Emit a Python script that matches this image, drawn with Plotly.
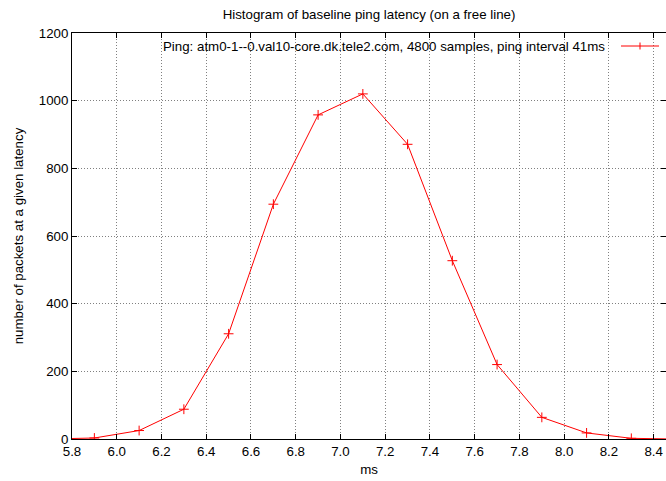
import plotly.graph_objects as go

# Data
latency_ms = [5.7, 5.9, 6.1, 6.3, 6.5, 6.7, 6.9, 7.1, 7.3, 7.5, 7.7, 7.9, 8.1, 8.3, 8.5]
packets = [0, 3, 25, 88, 311, 694, 958, 1020, 871, 527, 220, 64, 18, 2, 0]

title = "Histogram of baseline ping latency (on a free line)"
series_name = "Ping: atm0-1--0.val10-core.dk.tele2.com, 4800 samples, ping interval 41ms"
x_label = "ms"
y_label = "number of packets at a given latency"

FONT = "Liberation Sans, Arial, Helvetica, sans-serif"
FS = 13.3
RED = "#ff0000"

fig = go.Figure()
fig.add_trace(go.Scatter(
    x=latency_ms, y=packets, mode="lines+markers",
    line=dict(color=RED, width=1),
    marker=dict(symbol="cross-thin", size=7, line=dict(color=RED, width=1), color=RED),
    showlegend=False, cliponaxis=True, hoverinfo="skip",
))

axis_common = dict(
    showline=True, linecolor="black", linewidth=1, mirror="ticks",
    ticks="inside", ticklen=5, tickcolor="black", tickwidth=1,
    showgrid=True, gridcolor="#808080", griddash="1px,2px", gridwidth=1,
    zeroline=False, tickfont=dict(family=FONT, size=FS, color="black"),
    automargin=False,
)

fig.update_layout(
    width=666, height=481,
    margin=dict(l=72, r=0, t=33, b=42, autoexpand=False),
    paper_bgcolor="white", plot_bgcolor="white",
    font=dict(family=FONT, size=FS, color="black"),
    title=dict(text=title, x=(72 + 666) / 2 / 666, xanchor="center",
               y=1 - 14 / 481, yanchor="middle",
               font=dict(family=FONT, size=FS, color="black"), automargin=False),
    xaxis=dict(range=[5.8, 8.455], tick0=5.8, dtick=0.2, tickformat=".1f",
               title=dict(text=x_label, standoff=6, font=dict(family=FONT, size=FS)),
               **axis_common),
    yaxis=dict(range=[0, 1200], tick0=0, dtick=200,
               title=dict(text=y_label, standoff=12, font=dict(family=FONT, size=FS)),
               **axis_common),
    showlegend=False,
)

# Opaque key box (gnuplot style) hiding grid behind key text
fig.add_shape(type="rect", xref="paper", yref="paper",
              x0=0, x1=1, y0=1 - 16 / 406, y1=1,
              fillcolor="white", line=dict(width=0), layer="between")

# Key: text on left, sample on right
ky = 1 - 13 / 406
fig.add_annotation(text=series_name, xref="paper", yref="paper",
                   x=(607 - 72) / 594, y=ky, xanchor="right", yanchor="middle",
                   showarrow=False, font=dict(family=FONT, size=FS, color="black"))
fig.add_shape(type="line", xref="paper", yref="paper",
              x0=(621 - 72) / 594, x1=(659 - 72) / 594, y0=ky, y1=ky,
              line=dict(color=RED, width=1))
fig.add_shape(type="line", xref="paper", yref="paper",
              x0=(640 - 72) / 594, x1=(640 - 72) / 594, y0=ky - 3.5 / 406, y1=ky + 3.5 / 406,
              line=dict(color=RED, width=1))

fig.write_html("out.html", config={"displayModeBar": False},
               post_script="document.body.style.margin='0';")
